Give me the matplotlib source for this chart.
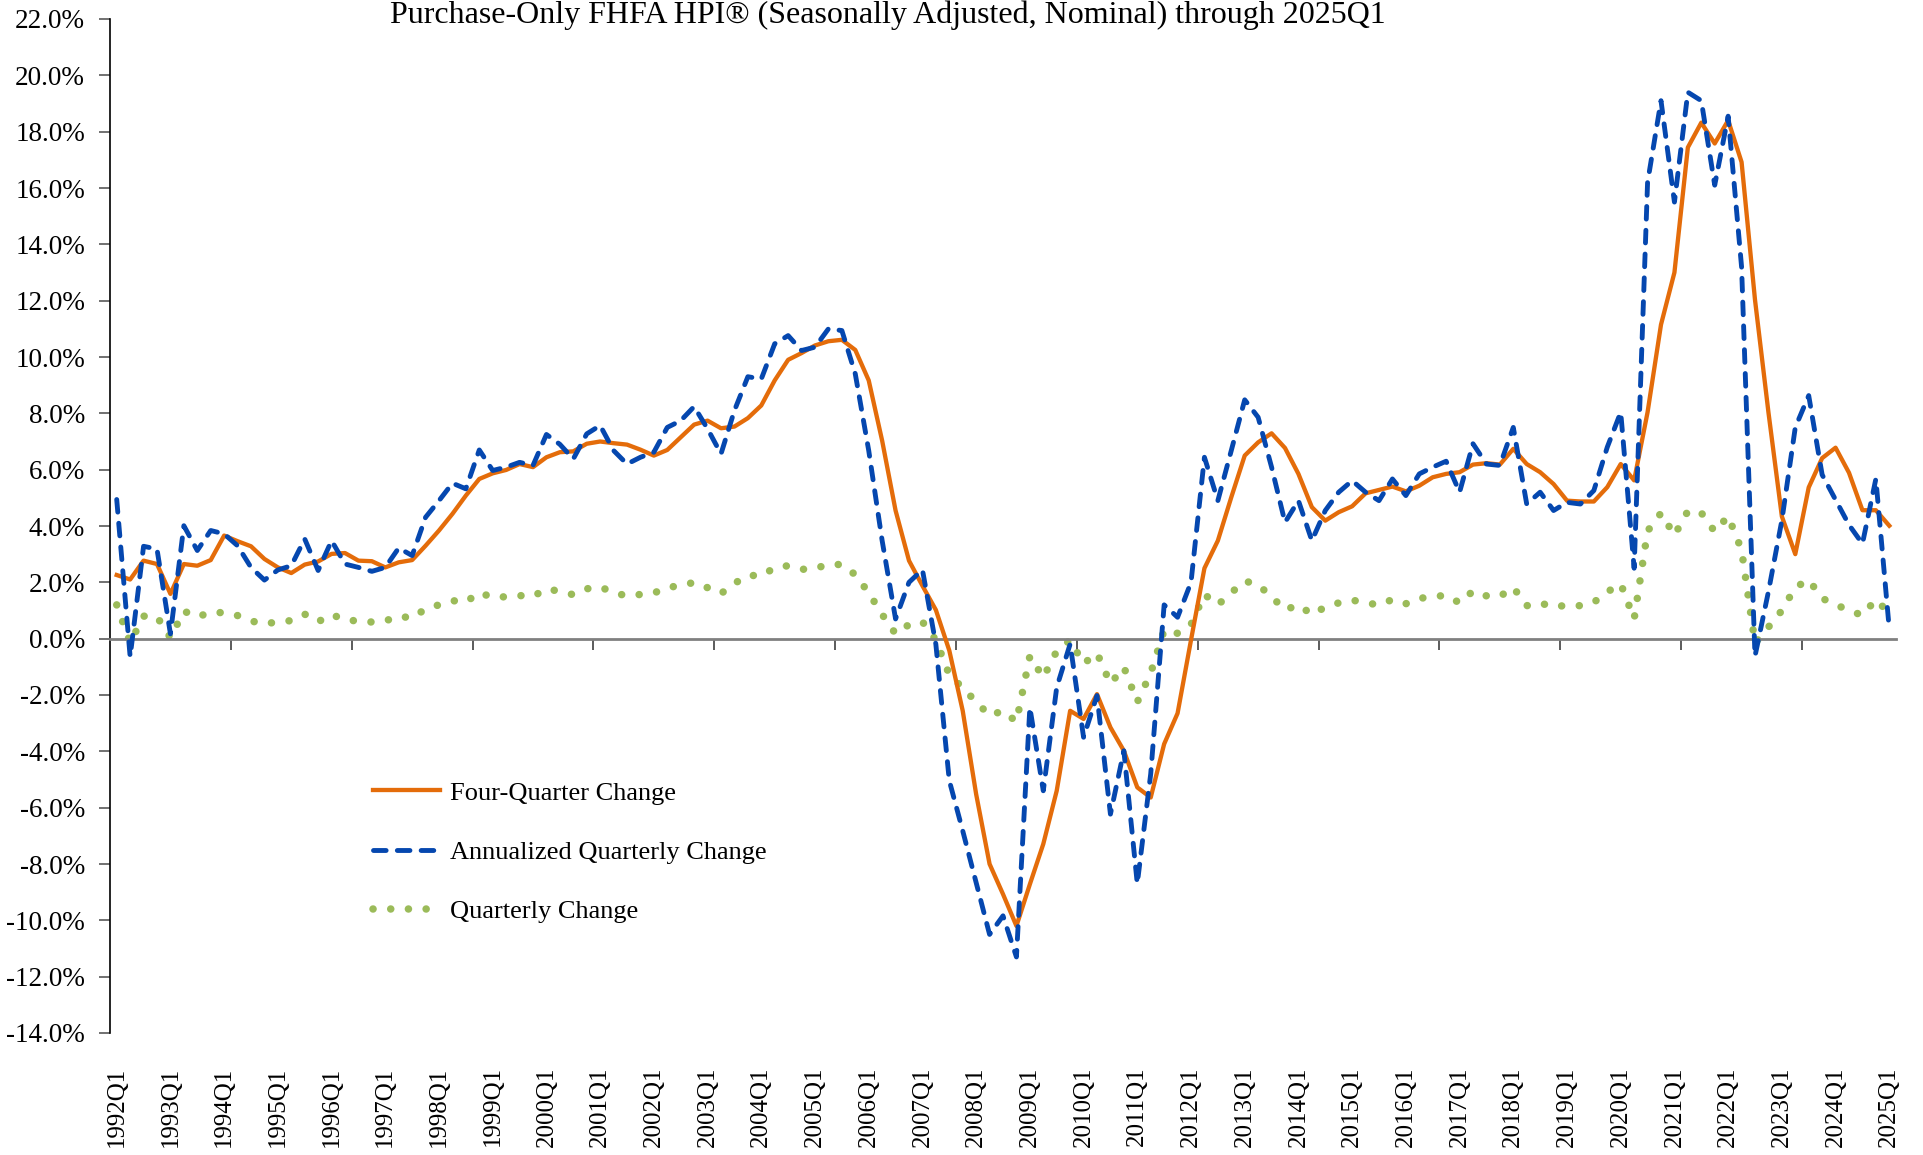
import matplotlib
matplotlib.use("Agg")
import matplotlib.pyplot as plt
import numpy as np

plt.rcParams['font.family'] = ['Liberation Serif', 'DejaVu Serif']

# quarters 1992Q1 .. 2025Q1
quarters = [f"{y}Q{q}" for y in range(1992, 2026) for q in range(1, 5)][:133]

# Four-Quarter Change (%)
four_q = [2.26, 2.1, 2.77, 2.65, 1.59, 2.65, 2.59, 2.79, 3.66, 3.46, 3.28, 2.83,
          2.53, 2.33, 2.63, 2.74, 3.01, 3.04, 2.77, 2.75, 2.53, 2.71, 2.79, 3.3,
          3.84, 4.43, 5.08, 5.67, 5.87, 5.99, 6.2, 6.09, 6.44, 6.62, 6.65, 6.92,
          7.0, 6.94, 6.89, 6.71, 6.5, 6.7, 7.15, 7.6, 7.74, 7.47, 7.53, 7.83,
          8.28, 9.17, 9.9, 10.14, 10.41, 10.56, 10.61, 10.25, 9.17, 7.03, 4.55, 2.77,
          1.88, 1.02, -0.42, -2.56, -5.52, -8.0, -9.07, -10.2, -8.72, -7.29, -5.4, -2.56,
          -2.85, -1.97, -3.15, -3.98, -5.28, -5.64, -3.74, -2.65, -0.05, 2.5, 3.48, 5.02,
          6.5, 6.97, 7.29, 6.77, 5.85, 4.67, 4.19, 4.49, 4.7, 5.16, 5.28, 5.4,
          5.23, 5.43, 5.73, 5.85, 5.91, 6.18, 6.23, 6.18, 6.74, 6.2, 5.91, 5.49,
          4.9, 4.87, 4.87, 5.38, 6.2, 5.62, 8.04, 11.15, 13.0, 17.44, 18.32, 17.58,
          18.4, 16.92, 12.03, 8.04, 4.34, 3.0, 5.37, 6.41, 6.78, 5.89, 4.56, 4.56,
          4.01]

# Annualized Quarterly Change (%)
annualized = [4.94, -0.64, 3.28, 3.18, 0.17, 4.01, 3.13, 3.84, 3.72, 3.3, 2.53, 2.08,
              2.44, 2.59, 3.54, 2.42, 3.48, 2.65, 2.53, 2.39, 2.53, 3.22, 2.95, 4.31,
              4.9, 5.52, 5.32, 6.7, 5.97, 6.09, 6.26, 6.15, 7.25, 6.9, 6.38, 7.27,
              7.57, 6.68, 6.2, 6.44, 6.62, 7.5, 7.74, 8.24, 7.45, 6.56, 8.1, 9.3,
              9.22, 10.47, 10.76, 10.23, 10.35, 11.0, 10.94, 9.4, 6.68, 3.48, 0.7, 2.0,
              2.45, -0.2, -5.04, -6.82, -8.66, -10.5, -9.84, -11.3, -2.44, -5.4, -1.73, -0.19,
              -3.5, -2.02, -6.23, -3.98, -8.7, -4.8, 1.2, 0.76, 2.0, 6.44, 4.9, 6.68,
              8.48, 7.86, 6.09, 4.13, 4.9, 3.48, 4.55, 5.2, 5.61, 5.2, 4.9, 5.67,
              5.08, 5.85, 6.09, 6.3, 5.2, 6.92, 6.2, 6.15, 7.5, 4.78, 5.2, 4.55,
              4.84, 4.78, 5.26, 6.8, 8.04, 2.5, 16.2, 19.1, 15.5, 19.4, 19.1, 16.1,
              18.55, 13.2, -0.62, 1.67, 4.2, 7.5, 8.63, 5.82, 4.93, 4.04, 3.37, 5.67,
              0.34]

# Quarterly Change (%)
quarterly = [1.2, -0.15, 0.8, 0.78, 0.03, 0.98, 0.77, 0.94, 0.92, 0.82, 0.63, 0.52,
             0.6, 0.64, 0.87, 0.6, 0.86, 0.66, 0.63, 0.59, 0.63, 0.8, 0.73, 1.06,
             1.2, 1.35, 1.3, 1.64, 1.46, 1.49, 1.53, 1.5, 1.77, 1.68, 1.56, 1.77,
             1.84, 1.63, 1.52, 1.57, 1.62, 1.82, 1.88, 2.0, 1.81, 1.6, 1.96, 2.25,
             2.23, 2.52, 2.59, 2.46, 2.49, 2.64, 2.63, 2.27, 1.63, 0.86, 0.17, 0.5,
             0.6, -0.05, -1.28, -1.75, -2.24, -2.73, -2.56, -2.95, -0.62, -1.38, -0.44, -0.05,
             -0.89, -0.51, -1.6, -1.01, -2.25, -1.22, 0.3, 0.19, 0.5, 1.57, 1.2, 1.63,
             2.05, 1.91, 1.49, 1.02, 1.2, 0.86, 1.12, 1.27, 1.37, 1.27, 1.2, 1.39,
             1.24, 1.43, 1.49, 1.54, 1.27, 1.69, 1.52, 1.5, 1.82, 1.17, 1.27, 1.12,
             1.19, 1.17, 1.29, 1.66, 1.95, 0.7, 3.82, 4.46, 3.67, 4.53, 4.47, 3.8,
             4.35, 3.15, -0.16, 0.41, 1.0, 1.82, 2.09, 1.43, 1.21, 1.0, 0.83, 1.39,
             0.9]

x = np.arange(len(quarters))
fig = plt.figure(figsize=(19.23, 11.55), dpi=100)
ax = fig.add_axes([110 / 1923, 1 - 1033 / 1155, 1786 / 1923, 1014 / 1155])

ax.plot(x, four_q, color='#E46C0A', lw=3.1, solid_joinstyle='round',
        label='Four-Quarter Change', zorder=3)
ax.plot(x, annualized, color='#0547AF', lw=3.5, linestyle=(0, (2.6, 2.3)),
        dash_capstyle='round', label='Annualized Quarterly Change', zorder=4)
ax.plot(x, quarterly, color='#9BBB59', lw=5.4, linestyle=(0, (0.01, 2.35)),
        dash_capstyle='round', label='Quarterly Change', zorder=2)

ax.set_xlim(-0.5, len(quarters) - 0.5)
ax.set_ylim(-14, 22)
ax.set_yticks(np.arange(-14, 23, 2))
ax.set_yticklabels([f"{v:.1f}%" for v in np.arange(-14, 23, 2)], fontsize=19.5)
ax.tick_params(axis='y', length=8, width=1.2, color='#595959', pad=10)

for s in ['top', 'right']:
    ax.spines[s].set_visible(False)
ax.spines['left'].set_color('black')
ax.spines['left'].set_linewidth(1.2)
ax.spines['bottom'].set_position(('data', 0))
ax.spines['bottom'].set_color('#808080')
ax.spines['bottom'].set_linewidth(2.0)

# tick marks on the zero line every 9 quarters, labels every 4 at the bottom
ax.set_xticks(np.arange(8.5, len(quarters), 9))
ax.tick_params(axis='x', length=8, width=1.2, color='#404040', labelbottom=False)

sec = ax.secondary_xaxis('bottom')
sec.set_xticks(x[::4], [quarters[i] for i in x[::4]], rotation=90, fontsize=18)
sec.tick_params(length=0, pad=24)
sec.spines['bottom'].set_visible(False)

fig.text(888 / 1923, 1 - 1 / 1155, 'Purchase-Only FHFA HPI® (Seasonally Adjusted, Nominal) through 2025Q1',
         ha='center', va='top', fontsize=23)

ax.legend(loc='center left', bbox_to_anchor=(373 / 1923, 1 - 852 / 1155),
          bbox_transform=fig.transFigure, frameon=False, fontsize=19,
          handlelength=2.55, handletextpad=0.35, labelspacing=1.35,
          borderpad=0, borderaxespad=0)

fig.savefig('out.png', dpi=100)
